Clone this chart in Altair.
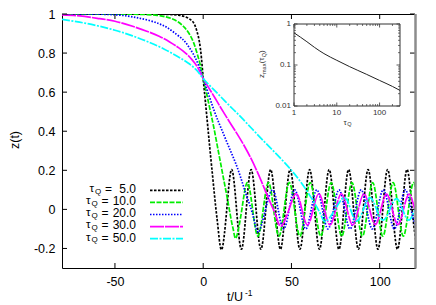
import altair as alt
import pandas as pd

FONT = "Liberation Sans"

# ---------------- data ----------------
tau_labels = ["5.0", "10.0", "20.0", "30.0", "50.0"]
colors = ["#000000", "#00ee00", "#0000ff", "#ff00ff", "#00ffff"]

t_tau5 = [-80, -65, -50, -38, -28, -20, -14, -10, -7, -5, -3.5, -2.2, -1, 0, 1, 2, 3, 4, 5.5, 7, 8.6, 10.6,
          13.35, 16.1, 18.9, 21.65, 24.4, 27.15, 29.95, 32.7, 35.45, 38.2, 41.0, 43.75, 46.5, 49.25, 52.05,
          54.8, 57.55, 60.3, 63.1, 65.85, 68.6, 71.35, 74.15, 76.9, 79.65, 82.4, 85.2, 87.95, 90.7, 93.45,
          96.25, 99.0, 101.75, 104.5, 107.3, 110.05, 112.8, 115.55, 118.35, 121.1]
z_tau5 = [1.0, 1.0, 1.0, 1.0, 0.999, 0.998, 0.994, 0.985, 0.97, 0.948, 0.91, 0.86, 0.775, 0.67, 0.575, 0.48,
          0.385, 0.29, 0.155, 0.02, -0.11, -0.204,
          0, 0.204, 0, -0.204, 0, 0.204, 0, -0.204, 0, 0.204, 0, -0.204, 0, 0.204, 0,
          -0.204, 0, 0.204, 0, -0.204, 0, 0.204, 0, -0.204, 0, 0.204, 0, -0.204, 0, 0.204,
          0, -0.204, 0, 0.204, 0, -0.204, 0, 0.204, 0, -0.204]

t_tau10 = [-80, -65, -50, -40, -32, -26, -21, -17, -13.5, -10.5, -8, -5.5, -3.5, -1.7, 0, 2, 4, 6, 8, 10, 12,
           14, 16, 17.3, 18.8,
           21.9, 25.0, 28.0, 31.0, 34.0, 37.0, 39.9, 42.9, 45.85, 48.8, 51.8, 54.8, 57.7, 60.6, 63.6, 66.6,
           69.55, 72.5, 75.5, 78.5, 81.4, 84.3, 87.2, 90.2, 93.1, 96.0, 98.9, 101.8, 104.7, 107.6, 110.5,
           113.4, 116.3, 119.2, 122.1]
z_tau10 = [1.0, 1.0, 1.0, 0.999, 0.997, 0.993, 0.985, 0.973, 0.955, 0.93, 0.9, 0.855, 0.8, 0.74, 0.67, 0.59,
           0.505, 0.42, 0.325, 0.23, 0.135, 0.04, -0.06, -0.115, -0.142,
           0, 0.137, 0, -0.137, 0, 0.137, 0, -0.137, 0, 0.137, 0, -0.137, 0, 0.137, 0, -0.137,
           0, 0.137, 0, -0.137, 0, 0.137, 0, -0.137, 0, 0.137, 0, -0.137, 0, 0.137, 0,
           -0.137, 0, 0.137, 0]

t_tau20 = [-80, -68, -58, -50, -43, -37, -31, -25, -20, -15, -11, -8, -5, -2.5, 0, 3, 6, 9, 12, 15, 18, 21,
           24, 26.5, 29, 31.5,
           35.3, 39.3, 42.45, 45.6, 48.7, 51.85, 55.0, 58.1, 61.25, 64.4, 67.55, 70.7, 73.8, 76.95, 80.1,
           83.2, 86.35, 89.5, 92.65, 95.8, 98.9, 102.05, 105.2, 108.3, 111.45, 114.6, 117.75, 120.9]
z_tau20 = [1.0, 1.0, 0.999, 0.996, 0.99, 0.98, 0.968, 0.95, 0.928, 0.895, 0.865, 0.83, 0.785, 0.735, 0.67,
           0.59, 0.51, 0.44, 0.375, 0.31, 0.245, 0.17, 0.085, 0.02, -0.06, -0.115,
           0, 0.1, 0, -0.1, 0, 0.1, 0, -0.1, 0, 0.1, 0, -0.1, 0, 0.1, 0,
           -0.1, 0, 0.1, 0, -0.1, 0, 0.1, 0, -0.1, 0, 0.1, 0, -0.1]

t_tau30 = [-80, -70, -60, -50, -40, -32, -25, -19, -14, -10, -6.5, -3, 0, 4, 8, 12, 16, 20, 23.7, 27, 30, 33,
           36, 39, 41.5, 44.3,
           48.6, 52.7, 55.9, 59.1, 62.3, 65.5, 68.7, 71.9, 75.1, 78.3, 81.5, 84.7, 87.9, 91.1, 94.3, 97.5,
           100.7, 103.9, 107.1, 110.3, 113.5, 116.7, 119.9, 123.1]
z_tau30 = [0.995, 0.99, 0.978, 0.963, 0.937, 0.912, 0.886, 0.857, 0.828, 0.8, 0.768, 0.725, 0.67, 0.61, 0.55,
           0.49, 0.432, 0.375, 0.318, 0.262, 0.205, 0.143, 0.078, 0.015, -0.04, -0.085,
           0, 0.08, 0, -0.08, 0, 0.08, 0, -0.08, 0, 0.08, 0, -0.08, 0, 0.08, 0, -0.078,
           0, 0.078, 0, -0.078, 0, 0.078, 0, -0.078]

t_tau50 = [-80, -70, -60, -50, -40, -30, -22, -15, -9, -4, 0, 5, 10, 15, 20, 25, 30, 35, 40, 45, 50, 54, 58,
           61.5, 64.5, 67, 69.5,
           74.75, 80, 83.5, 87, 90.75, 94.5, 98.25, 102, 105.75, 109.5, 113, 116.5, 120, 123.5]
z_tau50 = [0.973, 0.958, 0.94, 0.917, 0.888, 0.853, 0.82, 0.785, 0.752, 0.715, 0.67, 0.622, 0.576, 0.53,
           0.485, 0.438, 0.39, 0.343, 0.297, 0.25, 0.2, 0.155, 0.105, 0.055, 0.01, -0.035, -0.062,
           0, 0.06, 0, -0.06, 0, 0.06, 0, -0.055, 0, 0.055, 0, -0.055, 0, 0.055]

inset_tau = [1, 2, 3, 5, 10, 20, 30, 50, 100, 200, 300]
inset_zmax = [0.61, 0.37, 0.27, 0.19, 0.13, 0.091, 0.075, 0.059, 0.042, 0.030, 0.024]

x_ticks = [-50, 0, 50, 100]
y_ticks = [-0.2, 0, 0.2, 0.4, 0.6, 0.8, 1]
inset_x_ticks = [1, 10, 100]
inset_x_labels = ["1", "10", "100"]
inset_y_ticks = [0.01, 0.1, 1]
inset_y_labels = ["0.01", "0.1", "1"]
inset_x_minor = [2, 3, 4, 5, 6, 7, 8, 9, 20, 30, 40, 50, 60, 70, 80, 90, 200]
inset_y_minor = [0.02, 0.03, 0.04, 0.05, 0.06, 0.07, 0.08, 0.09, 0.2, 0.3, 0.4, 0.5, 0.6, 0.7, 0.8, 0.9]

# ---------------- layout ----------------
W, H = 353, 254
LW = 1.7
dashes = [[2.5, 1.5], [5, 1.5], [1.5, 1.5], [14, 1], [8, 1.5, 2, 1.5]]
dummy = pd.DataFrame({"d": [0]})

xs = alt.Scale(domain=[-80, 120], nice=False, zero=False)
ys = alt.Scale(domain=[-0.3, 1.0], nice=False, zero=False)
ax_x = alt.Axis(values=x_ticks, ticks=False, domain=False, grid=False, labelFont=FONT, labelFontSize=12.5,
                labelColor="black", labelPadding=7, title=None, labelExpr="'' + datum.value",
                labelFlush=False, labelOverlap=False)
ax_y = alt.Axis(values=y_ticks, ticks=False, domain=False, grid=False, labelFont=FONT, labelFontSize=12.5,
                labelColor="black", labelPadding=7, title=None, labelExpr="'' + datum.value",
                labelFlush=False, labelOverlap=False)
X = alt.X("t:Q", scale=xs, axis=ax_x)
Y = alt.Y("z:Q", scale=ys, axis=ax_y)

series_t = [t_tau5, t_tau10, t_tau20, t_tau30, t_tau50]
series_z = [z_tau5, z_tau10, z_tau20, z_tau30, z_tau50]

main_layers = []
for i in range(5):
    df = pd.DataFrame({"t": series_t[i], "z": series_z[i]})
    main_layers.append(
        alt.Chart(df).mark_line(color=colors[i], strokeWidth=LW, strokeDash=dashes[i],
                                interpolate="natural", clip=True).encode(x=X, y=Y)
    )

xt = pd.DataFrame({"t": x_ticks})
yt = pd.DataFrame({"z": y_ticks})
main_layers += [
    alt.Chart(xt).mark_rule(color="black", strokeWidth=1).encode(x=X, y=alt.value(H), y2=alt.value(H - 5)),
    alt.Chart(xt).mark_rule(color="black", strokeWidth=1).encode(x=X, y=alt.value(0), y2=alt.value(5)),
    alt.Chart(yt).mark_rule(color="black", strokeWidth=1).encode(y=Y, x=alt.value(0), x2=alt.value(5)),
    alt.Chart(yt).mark_rule(color="black", strokeWidth=1).encode(y=Y, x=alt.value(W - 5), x2=alt.value(W)),
    alt.Chart(dummy).mark_rule(color="#8c8c8c", strokeWidth=2.5).encode(
        x=alt.value(W + 0.5), y=alt.value(0), y2=alt.value(H + 0.5)),
]

# legend
for i in range(5):
    ry = 176.3 + 12.1 * i
    tx = 27.5 if i == 0 else 24
    main_layers += [
        alt.Chart(dummy).mark_rule(color=colors[i], strokeWidth=LW, strokeDash=dashes[i]).encode(
            x=alt.value(88), x2=alt.value(121), y=alt.value(ry)),
        alt.Chart(dummy).mark_text(text="τ", align="left", baseline="middle", font=FONT, fontSize=11.5,
                                   color="black").encode(x=alt.value(tx), y=alt.value(ry - 1.2)),
        alt.Chart(dummy).mark_text(text="Q", align="left", baseline="middle", font=FONT, fontSize=8,
                                   color="black").encode(x=alt.value(tx + 5.4), y=alt.value(ry + 1.2)),
        alt.Chart(dummy).mark_text(text="=", align="left", baseline="middle", font=FONT, fontSize=12,
                                   color="black").encode(x=alt.value(tx + 15.5), y=alt.value(ry - 1.2)),
        alt.Chart(dummy).mark_text(text=tau_labels[i], align="right", baseline="middle", font=FONT,
                                   fontSize=12, color="black").encode(x=alt.value(74), y=alt.value(ry - 1.2)),
    ]

# axis titles
main_layers += [
    alt.Chart(dummy).mark_text(text="z(t)", angle=270, align="center", baseline="middle", font=FONT,
                               fontSize=12.5, color="black").encode(x=alt.value(-47), y=alt.value(126)),
    alt.Chart(dummy).mark_text(text="t/U", align="left", baseline="alphabetic", font=FONT,
                               fontSize=12.5, color="black").encode(x=alt.value(165), y=alt.value(287)),
    alt.Chart(dummy).mark_text(text="-1", align="left", baseline="alphabetic", font=FONT,
                               fontSize=8.5, color="black").encode(x=alt.value(183), y=alt.value(282)),
]
main = alt.layer(*main_layers)

# ---------------- inset ----------------
IL, IR, IT, IB = 232, 338, 10, 92
isx = alt.Scale(type="log", domain=[1, 300], range=[IL, IR], nice=False)
isy = alt.Scale(type="log", domain=[0.01, 1], range=[IB, IT], nice=False)
IX = alt.X("tau:Q", scale=isx, axis=None)
IY = alt.Y("zmax:Q", scale=isy, axis=None)

ixt = pd.DataFrame({"tau": inset_x_ticks, "lab": inset_x_labels})
iyt = pd.DataFrame({"zmax": inset_y_ticks, "lab": inset_y_labels})
ixm = pd.DataFrame({"tau": inset_x_minor})
iym = pd.DataFrame({"zmax": inset_y_minor})
TC = "#333333"

inset_layers = [
    alt.Chart(dummy).mark_rect(fill="white", stroke=TC, strokeWidth=1).encode(
        x=alt.value(IL), x2=alt.value(IR), y=alt.value(IT), y2=alt.value(IB)),
    alt.Chart(pd.DataFrame({"tau": inset_tau, "zmax": inset_zmax})).mark_line(
        color="#222222", strokeWidth=1, interpolate="monotone").encode(x=IX, y=IY),
    alt.Chart(ixt).mark_rule(color=TC, strokeWidth=0.8).encode(x=IX, y=alt.value(IB), y2=alt.value(IB - 3.5)),
    alt.Chart(ixt).mark_rule(color=TC, strokeWidth=0.8).encode(x=IX, y=alt.value(IT), y2=alt.value(IT + 3.5)),
    alt.Chart(ixm).mark_rule(color=TC, strokeWidth=0.7).encode(x=IX, y=alt.value(IB), y2=alt.value(IB - 2)),
    alt.Chart(ixm).mark_rule(color=TC, strokeWidth=0.7).encode(x=IX, y=alt.value(IT), y2=alt.value(IT + 2)),
    alt.Chart(iyt).mark_rule(color=TC, strokeWidth=0.8).encode(y=IY, x=alt.value(IL), x2=alt.value(IL + 3.5)),
    alt.Chart(iyt).mark_rule(color=TC, strokeWidth=0.8).encode(y=IY, x=alt.value(IR - 3.5), x2=alt.value(IR)),
    alt.Chart(iym).mark_rule(color=TC, strokeWidth=0.7).encode(y=IY, x=alt.value(IL), x2=alt.value(IL + 2)),
    alt.Chart(iym).mark_rule(color=TC, strokeWidth=0.7).encode(y=IY, x=alt.value(IR - 2), x2=alt.value(IR)),
    alt.Chart(ixt).mark_text(align="center", baseline="middle", font=FONT, fontSize=8, color=TC).encode(
        x=IX, y=alt.value(IB + 6.5), text="lab:N"),
    alt.Chart(iyt).mark_text(align="right", baseline="middle", font=FONT, fontSize=8, color=TC).encode(
        y=IY, x=alt.value(IL - 3), text="lab:N"),
    # inset x title
    alt.Chart(dummy).mark_text(text="τ", align="left", baseline="middle", font=FONT, fontSize=8,
                               color=TC).encode(x=alt.value(281.5), y=alt.value(108.5)),
    alt.Chart(dummy).mark_text(text="Q", align="left", baseline="middle", font=FONT, fontSize=5.5,
                               color=TC).encode(x=alt.value(285.3), y=alt.value(110.3)),
    # inset y title (rotated)
    alt.Chart(dummy).mark_text(text="z", angle=270, align="left", baseline="middle", font=FONT,
                               fontSize=8, color=TC).encode(x=alt.value(200), y=alt.value(64)),
    alt.Chart(dummy).mark_text(text="max", angle=270, align="left", baseline="middle", font=FONT,
                               fontSize=5.5, color=TC).encode(x=alt.value(201.6), y=alt.value(60)),
    alt.Chart(dummy).mark_text(text="(τ", angle=270, align="left", baseline="middle", font=FONT,
                               fontSize=8, color=TC).encode(x=alt.value(200), y=alt.value(49.3)),
    alt.Chart(dummy).mark_text(text="Q", angle=270, align="left", baseline="middle", font=FONT,
                               fontSize=5.5, color=TC).encode(x=alt.value(201.6), y=alt.value(43.2)),
    alt.Chart(dummy).mark_text(text=")", angle=270, align="left", baseline="middle", font=FONT,
                               fontSize=8, color=TC).encode(x=alt.value(200), y=alt.value(39)),
]
inset = alt.layer(*inset_layers)

chart = alt.layer(main, inset).resolve_scale(x="independent", y="independent").properties(
    width=W, height=H,
    autosize=alt.AutoSizeParams(type="none"),
    padding={"left": 54, "top": 6, "right": 13, "bottom": 35},
).configure_view(stroke="black", strokeWidth=1)

chart.save("out.html", embed_options={"renderer": "svg", "actions": False})
